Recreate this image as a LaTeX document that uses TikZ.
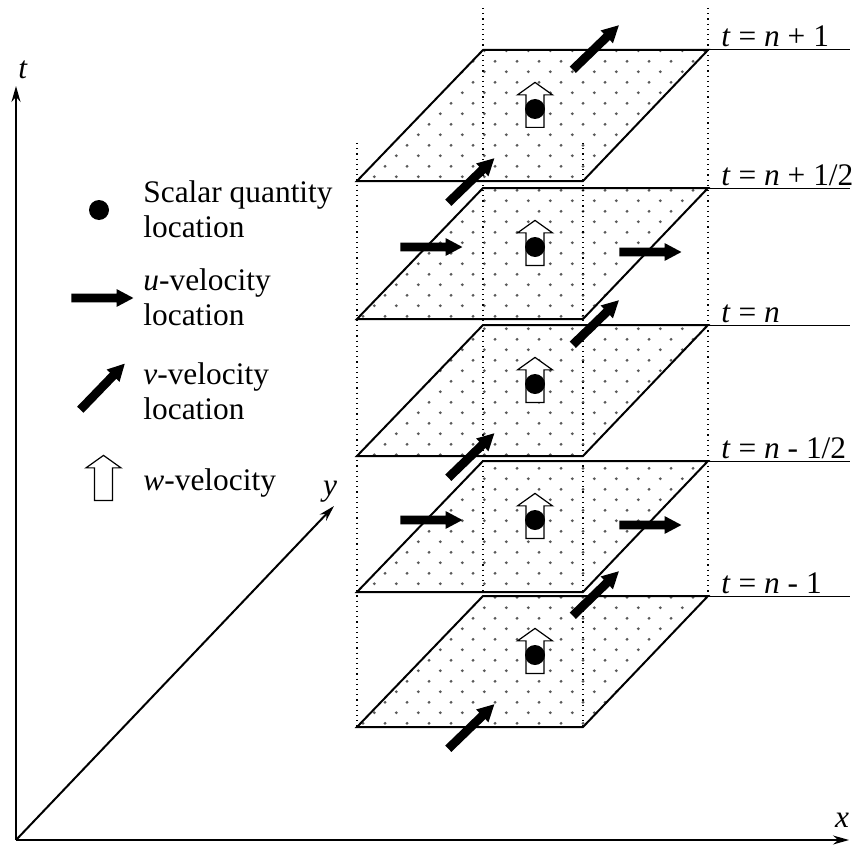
\documentclass[tikz,border=0pt]{standalone}
\usepackage{fontspec}
\setmainfont{Liberation Serif}
\usetikzlibrary{arrows.meta,shapes.arrows,patterns.meta}

% staggered grey dots on the grid layers
\tikzdeclarepattern{
  name=griddots,
  type=uncolored,
  bottom left={(0pt,0pt)},
  top right={(10.85pt,10.7pt)},
  tile size={(10.85pt,10.7pt)},
  code={
    \fill (2.7pt,2.7pt) circle (0.8pt);
    \fill (8.12pt,8.05pt) circle (0.8pt);
  }
}

\tikzset{
  layer/.style={draw, line width=1pt, pattern=griddots, pattern color=black!65},
  edgeline/.style={dotted, line width=0.6pt},
  levelline/.style={line width=0.5pt},
  axis/.style={line width=1pt, -{Stealth[length=8pt,width=4.5pt]}},
  scalarpt/.style={circle, fill=black, minimum size=10pt, inner sep=0pt},
  uvel/.style={single arrow, fill=black, anchor=tail, inner xsep=0pt,
               inner ysep=2pt, single arrow head extend=2.25pt,
               single arrow tip angle=56, minimum height=31pt},
  vvel/.style={uvel, rotate=44, minimum height=32pt},
  wvel/.style={single arrow, draw, fill=white, line width=0.6pt, anchor=tail,
               rotate=90, inner xsep=0pt, inner ysep=4.2pt,
               single arrow head extend=4.25pt, single arrow tip angle=109,
               minimum height=22.5pt},
  legendtext/.style={anchor=north west, inner sep=0pt, align=left}
}

\begin{document}
\begin{tikzpicture}[x=0.5pt, y=-0.5pt, font=\fontsize{15.7}{17.5}\selectfont]
  \useasboundingbox (0,0) rectangle (854,845);

  % time levels, top to bottom
  \foreach \T/\lab [count=\i] in {50/{+ 1}, 188/{+ 1/2}, 325/{}, 461/{- 1/2}, 596/{- 1}} {
    \draw[layer] (483,\T) coordinate (tl\i) -- (708,\T) coordinate (tr\i)
      -- (583,\T+131) coordinate (br\i) -- (357,\T+131) coordinate (bl\i) -- cycle;
    \coordinate (le\i) at (850,\T);
    \draw[levelline] (tr\i) -- (le\i);
    \node[anchor=base west, inner sep=0pt] (lab\i) at (721,\T-3)
      {\textit{t} = \textit{n} \lab};
  }

  % vertical edges of the cell
  \draw[edgeline] (357,143) -- (bl5);
  \draw[edgeline] (583,143) -- (br5);
  \draw[edgeline] (483,8) -- (tl5);
  \draw[edgeline] (708,8) -- (tr5);

  % scalar and w at the cell centre
  \foreach \T [count=\i] in {50,188,325,461,596} {
    \node[wvel] (w\i) at (535,\T+78) {};
    \node[scalarpt] (s\i) at (535,\T+59) {};
  }
  % v on the front and back faces
  \foreach \T [count=\i] in {50,325,596} {
    \node[vvel] (vb\i) at (572.5,\T+20) {};
    \node[vvel] (vf\i) at (448,\T+153) {};
  }
  % u on the left and right faces
  \foreach \T [count=\i] in {188,461} {
    \node[uvel] (ul\i) at (400,\T+59) {};
    \node[uvel] (ur\i) at (619,\T+64) {};
  }

  % legend
  \node[scalarpt] (keys) at (99,210) {};
  \node[legendtext] (keystxt) at (143,180) {Scalar quantity\\location};
  \node[uvel] (keyu) at (71,298) {};
  \node[legendtext] (keyutxt) at (143,268) {\textit{u}-velocity\\location};
  \node[vvel, rotate=2] (keyv) at (80,410) {};
  \node[legendtext] (keyvtxt) at (143,362) {\textit{v}-velocity\\location};
  \node[wvel] (keyw) at (103.5,501) {};
  \node[legendtext] (keywtxt) at (143,468) {\textit{w}-velocity};

  % axes
  \coordinate (O) at (16,840);
  \coordinate (tend) at (16,86);
  \coordinate (xend) at (849,840);
  \coordinate (yend) at (334,506);
  \draw[axis] (O) -- (tend);
  \draw[axis] (O) -- (xend);
  \draw[axis] (O) -- (yend);
  \node (tlab) at (23,70) {\textit{t}};
  \node (ylab) at (330,492) {\textit{y}};
  \node (xlab) at (842,820) {\textit{x}};
\end{tikzpicture}
\end{document}
